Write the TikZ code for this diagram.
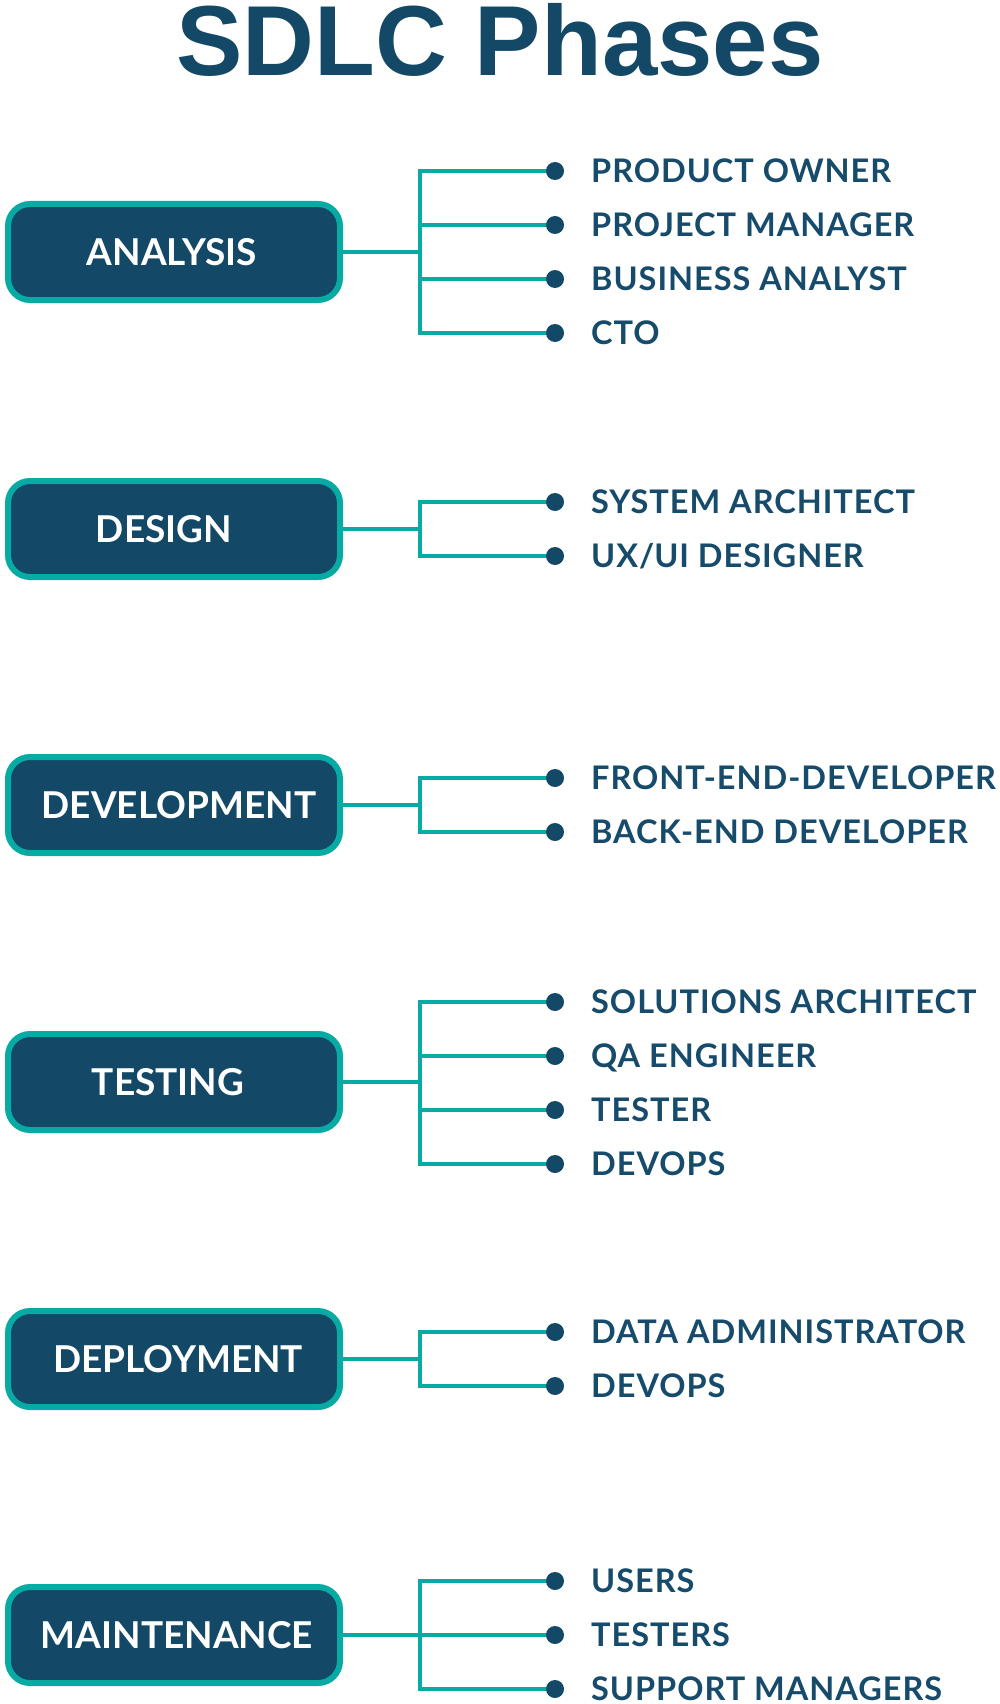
\documentclass[tikz,border=0pt]{standalone}
\usepackage{fontspec}
\setmainfont{Lato}
\newfontfamily\titlefont{Liberation Sans}
\newfontfamily\rolefont[LetterSpace=3]{Lato}
\definecolor{navy}{HTML}{134966}
\definecolor{teal2}{HTML}{07ABA3}
\definecolor{labelc}{HTML}{164B6B}
\tikzset{
  phase/.style={draw=teal2, fill=navy, line width=6pt, rounded corners=22pt,
    minimum width=332pt, minimum height=96pt, inner sep=0pt,
    text=white, font=\bfseries\fontsize{37}{44}\selectfont},
  role/.style={anchor=base west, inner sep=0pt, text=labelc,
    font=\rolefont\bfseries\fontsize{32.5}{39}\selectfont},
  dotn/.style={circle, fill=navy, minimum size=18pt, inner sep=0pt},
  conn/.style={draw=teal2, line width=4pt},
}
\begin{document}
\begin{tikzpicture}[x=1pt,y=-1pt]
\useasboundingbox[fill=white] (0,0) rectangle (1000,1704);
\node[anchor=base, inner sep=0pt, text=navy, font=\titlefont\bfseries\fontsize{99.5}{110}\selectfont] (title) at (500,76) {SDLC Phases};

% phase boxes (label offset d shifts the text centre by d)
\foreach \n/\t/\y/\d in {A/ANALYSIS/252/-2, B/DESIGN/529/-10, C/DEVELOPMENT/805/5, D/TESTING/1082/-6, E/DEPLOYMENT/1359/4, F/MAINTENANCE/1635/3}{
  \node[phase] (\n) at (174,\y) {\hspace*{\d pt}\hspace*{\d pt}\t};
  \coordinate (j\n) at (420,\y);
}

% roles: box / index / label / y
\foreach \n/\k/\t/\y in {
  A/1/PRODUCT OWNER/171, A/2/PROJECT MANAGER/225, A/3/BUSINESS ANALYST/279, A/4/CTO/333,
  B/1/SYSTEM ARCHITECT/502, B/2/UX\slash UI DESIGNER/556,
  C/1/FRONT-END-DEVELOPER/778, C/2/BACK-END DEVELOPER/832,
  D/1/SOLUTIONS ARCHITECT/1002, D/2/QA ENGINEER/1056, D/3/TESTER/1110, D/4/DEVOPS/1164,
  E/1/DATA ADMINISTRATOR/1332, E/2/DEVOPS/1386,
  F/1/USERS/1581, F/2/TESTERS/1635, F/3/SUPPORT MANAGERS/1689}{
  \coordinate (d\n\k) at (555,\y);
  \draw[conn] (\n.east) -- (j\n) |- (d\n\k);
  \node[dotn] (dot\n\k) at (d\n\k) {};
  \node[role] (r\n\k) at (591,\y+11.5) {\t};
}
\end{tikzpicture}
\end{document}
